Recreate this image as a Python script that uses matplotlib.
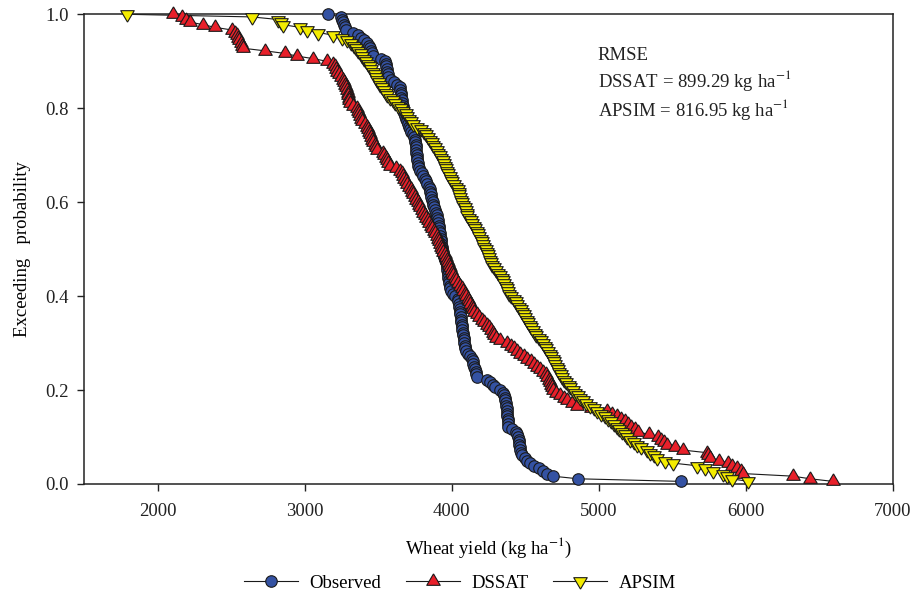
import numpy as np
import matplotlib
matplotlib.use("Agg")
import matplotlib.pyplot as plt
from matplotlib.lines import Line2D

# Sorted wheat yields (kg/ha), ascending; exceedance probability follows from rank
observed = [3159, 3250, 3256, 3262, 3268, 3274, 3282, 3330, 3365, 3385,
            3405, 3425, 3440, 3446, 3452, 3457, 3462, 3520, 3548, 3552,
            3555, 3558, 3561, 3564, 3568, 3590, 3610, 3630, 3646, 3650,
            3653, 3655, 3658, 3660, 3663, 3666, 3668, 3672, 3678, 3684,
            3690, 3695, 3700, 3708, 3716, 3725, 3734, 3742, 3750, 3752,
            3754, 3756, 3758, 3760, 3762, 3764, 3766, 3768, 3770, 3775,
            3785, 3795, 3805, 3815, 3825, 3835, 3846, 3852, 3855, 3858,
            3862, 3866, 3872, 3876, 3881, 3886, 3892, 3897, 3903, 3907,
            3909, 3911, 3914, 3916, 3919, 3921, 3924, 3926, 3929, 3931,
            3934, 3939, 3944, 3950, 3955, 3960, 3966, 3968, 3971, 3973,
            3975, 3978, 3980, 3982, 3985, 3987, 3995, 4010, 4025, 4040,
            4044, 4047, 4050, 4053, 4055, 4058, 4061, 4063, 4066, 4068,
            4071, 4073, 4076, 4079, 4081, 4083, 4085, 4087, 4089, 4095,
            4110, 4125, 4136, 4142, 4147, 4152, 4158, 4163, 4168, 4172,
            4240, 4262, 4280, 4292, 4330, 4350, 4355, 4360, 4364, 4368,
            4372, 4375, 4377, 4378, 4379, 4380, 4380, 4381, 4382, 4410,
            4440, 4446, 4450, 4454, 4457, 4460, 4463, 4466, 4472, 4480,
            4495, 4512, 4532, 4560, 4590, 4620, 4650, 4688, 4858, 5560]

dssat = [2107, 2164, 2193, 2221, 2311, 2391, 2504, 2527, 2537, 2547,
         2557, 2566, 2574, 2581, 2730, 2866, 2946, 3059, 3150, 3195,
         3205, 3215, 3222, 3235, 3248, 3260, 3266, 3273, 3280, 3287,
         3292, 3296, 3300, 3304, 3308, 3330, 3355, 3366, 3372, 3379,
         3386, 3393, 3410, 3426, 3432, 3438, 3445, 3451, 3458, 3466,
         3475, 3484, 3492, 3530, 3540, 3550, 3560, 3570, 3580, 3620,
         3650, 3659, 3668, 3677, 3688, 3698, 3709, 3720, 3730, 3740,
         3750, 3759, 3768, 3777, 3787, 3796, 3805, 3815, 3826, 3836,
         3847, 3857, 3868, 3878, 3887, 3897, 3906, 3915, 3922, 3929,
         3937, 3944, 3951, 3959, 3966, 3972, 3979, 3986, 3993, 4000,
         4007, 4020, 4032, 4045, 4057, 4070, 4080, 4089, 4099, 4108,
         4118, 4127, 4136, 4145, 4154, 4170, 4187, 4204, 4220, 4237,
         4252, 4265, 4278, 4290, 4302, 4330, 4376, 4400, 4420, 4442,
         4464, 4488, 4512, 4536, 4560, 4580, 4600, 4620, 4640, 4650,
         4660, 4668, 4676, 4684, 4690, 4712, 4736, 4760, 4783, 4815,
         4851, 4950, 5055, 5090, 5125, 5150, 5175, 5198, 5220, 5245,
         5265, 5340, 5402, 5420, 5440, 5463, 5520, 5572, 5735, 5745,
         5756, 5820, 5878, 5905, 5939, 5965, 5980, 6320, 6436, 6592]

apsim = [1792, 2640, 2821, 2840, 2855, 2968, 3014, 3093, 3195, 3252,
         3286, 3315, 3335, 3350, 3365, 3380, 3392, 3405, 3418, 3431,
         3444, 3454, 3465, 3475, 3485, 3495, 3505, 3512, 3525, 3537,
         3550, 3562, 3580, 3598, 3616, 3634, 3652, 3670, 3688, 3696,
         3708, 3722, 3740, 3765, 3790, 3810, 3825, 3838, 3852, 3864,
         3876, 3888, 3900, 3910, 3920, 3930, 3940, 3948, 3955, 3962,
         3970, 3978, 3986, 3993, 4005, 4018, 4030, 4042, 4048, 4052,
         4056, 4064, 4072, 4080, 4088, 4096, 4103, 4106, 4117, 4128,
         4139, 4150, 4161, 4172, 4180, 4188, 4197, 4205, 4214, 4222,
         4230, 4237, 4244, 4252, 4259, 4266, 4274, 4288, 4302, 4316,
         4330, 4340, 4349, 4358, 4368, 4378, 4385, 4392, 4400, 4420,
         4436, 4447, 4458, 4469, 4480, 4490, 4500, 4510, 4520, 4530,
         4540, 4552, 4564, 4576, 4590, 4605, 4620, 4632, 4643, 4654,
         4665, 4676, 4686, 4695, 4704, 4713, 4722, 4731, 4740, 4752,
         4766, 4780, 4794, 4806, 4822, 4840, 4858, 4875, 4892, 4915,
         4940, 4965, 4990, 5015, 5040, 5065, 5085, 5105, 5125, 5140,
         5158, 5175, 5191, 5214, 5237, 5259, 5290, 5327, 5350, 5372,
         5395, 5450, 5504, 5667, 5720, 5776, 5844, 5870, 5905, 6014]

series_names = ["Observed", "DSSAT", "APSIM"]
x_ticks = [2000, 3000, 4000, 5000, 6000, 7000]
y_ticks = [0.0, 0.2, 0.4, 0.6, 0.8, 1.0]
rmse_dssat = 899.29
rmse_apsim = 816.95


def exceedance(values):
    v = np.sort(np.asarray(values, dtype=float))
    n = len(v)
    p = (n - np.arange(n)) / n
    return v, p


plt.rcParams['font.family'] = ['Liberation Serif', 'DejaVu Serif']
plt.rcParams['mathtext.fontset'] = 'stix'
FS = 13.5

fig = plt.figure(figsize=(9.2, 5.97), dpi=100)
ax = fig.add_axes([84 / 920, 1 - 484 / 597, (893 - 84) / 920, (484 - 14.3) / 597])

# triangles centred on their centroid
tri_up = [(0, 1), (-0.882, -0.5), (0.882, -0.5), (0, 1)]
tri_down = [(0, -1), (-0.882, 0.5), (0.882, 0.5), (0, -1)]

styles = [
    dict(marker='o', ms=8.3, mfc='#3452a3'),
    dict(marker=tri_up, ms=11.0, mfc='#e8202a'),
    dict(marker=tri_down, ms=11.0, mfc='#f4ec00'),
]
data = [observed, dssat, apsim]

handles = []
for vals, st, name in zip(data, styles, series_names):
    xv, pv = exceedance(vals)
    ax.plot(xv, pv, '-', color='#1a1a1a', lw=0.8, zorder=2, clip_on=False)
    ax.plot(xv, pv, linestyle='none', marker=st['marker'], ms=st['ms'],
            mfc=st['mfc'], mec='#1a1a1a', mew=0.8, zorder=3, clip_on=False)
    handles.append(Line2D([0], [0], color='#1a1a1a', lw=0.8, marker=st['marker'],
                          ms=st['ms'], mfc=st['mfc'], mec='#1a1a1a', mew=0.8))

ax.set_xlim(1500, 7000)
ax.set_ylim(0.0, 1.0)
ax.set_xticks(x_ticks)
ax.set_yticks(y_ticks)
ax.set_yticklabels([f"{t:.1f}" for t in y_ticks])
ax.tick_params(direction='out', length=5, width=1, labelsize=FS, pad=6,
               colors='#222222', top=False, right=False)
ax.tick_params(axis='x', pad=9)
for s in ax.spines.values():
    s.set_linewidth(1.1)
    s.set_color('#222222')

ax.set_xlabel(r"Wheat yield (kg ha$^{-1}$)", fontsize=FS, labelpad=11)
ax.set_ylabel("Exceeding   probability", fontsize=FS, labelpad=10)

tx = 0.635
ax.text(tx, 0.913, "RMSE", transform=ax.transAxes, fontsize=FS,
        ha='left', va='center', color='#222222')
ax.text(tx, 0.858, rf"DSSAT = {rmse_dssat:.2f} kg ha$^{{-1}}$", transform=ax.transAxes,
        fontsize=FS, ha='left', va='center', color='#222222')
ax.text(tx, 0.798, rf"APSIM = {rmse_apsim:.2f} kg ha$^{{-1}}$", transform=ax.transAxes,
        fontsize=FS, ha='left', va='center', color='#222222')

fig.legend(handles, series_names, loc='center', bbox_to_anchor=(0.5, 1 - 583 / 597),
           ncol=3, frameon=False, fontsize=FS, handlelength=2.9,
           columnspacing=1.3, handletextpad=0.6)

fig.savefig("out.png", dpi=100)
